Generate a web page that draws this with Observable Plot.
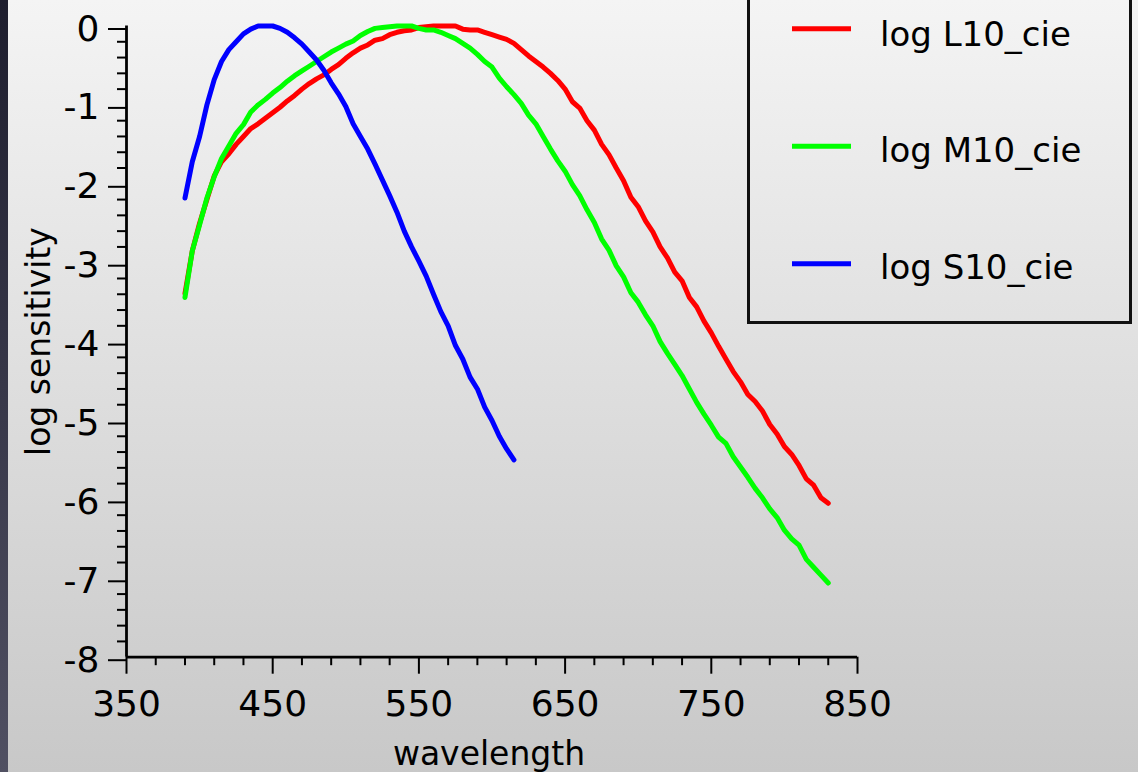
<!DOCTYPE html>
<html><head><meta charset="utf-8">
<script src="https://cdn.jsdelivr.net/npm/d3@7"></script>
<script src="https://cdn.jsdelivr.net/npm/@observablehq/plot@0.6"></script>
<style>
html,body{margin:0;padding:0;}
body{width:1138px;height:772px;overflow:hidden;background:linear-gradient(#f4f4f4,#c8c8c8);font-family:"DejaVu Sans",sans-serif;}
#wrap{position:relative;width:1138px;height:772px;}
#chart{position:absolute;left:0;top:0;}
#strip{position:absolute;left:0;top:0;width:8px;height:772px;background:linear-gradient(#1e1e2e,#505062);}
#legend{position:absolute;left:0;top:0;overflow:visible;}
</style></head>
<body><div id="wrap"><div id="chart"></div><div id="strip"></div><svg id="legend" width="1138" height="772"></svg></div>
<script>
// wavelength grid (nm), 5 nm steps
const wavelengthsLM = d3.range(390, 831, 5);
const wavelengthsS = d3.range(390, 616, 5);

const logL10 = [-3.39,-2.85,-2.50,-2.20,-1.90,-1.72,-1.62,-1.50,-1.40,-1.30,-1.24,-1.17,-1.10,
  -1.03,-0.95,-0.88,-0.80,-0.73,-0.67,-0.62,-0.55,-0.49,-0.41,
  -0.34,-0.28,-0.24,-0.18,-0.16,-0.11,-0.08,-0.06,-0.05,-0.02,
  -0.01,0,0,0,0,-0.04,-0.05,-0.05,-0.08,-0.11,
  -0.14,-0.17,-0.22,-0.30,-0.38,-0.45,-0.52,-0.60,-0.69,-0.80,
  -0.96,-1.04,-1.20,-1.32,-1.50,-1.63,-1.80,-1.96,-2.17,-2.29,
  -2.47,-2.61,-2.80,-2.94,-3.12,-3.23,-3.44,-3.56,-3.74,-3.89,
  -4.06,-4.22,-4.38,-4.51,-4.67,-4.76,-4.88,-5.05,-5.17,-5.33,
  -5.43,-5.57,-5.74,-5.82,-5.98,-6.05];

const logM10 = [-3.44,-2.85,-2.52,-2.18,-1.91,-1.68,-1.52,-1.36,-1.25,-1.09,-1.00,-0.93,-0.85,
  -0.78,-0.70,-0.63,-0.57,-0.51,-0.45,-0.39,-0.33,-0.28,-0.23,
  -0.19,-0.12,-0.07,-0.03,-0.02,-0.01,0,0,0,-0.03,
  -0.05,-0.05,-0.08,-0.12,-0.16,-0.22,-0.28,-0.36,-0.45,-0.52,
  -0.66,-0.77,-0.87,-0.98,-1.13,-1.24,-1.40,-1.56,-1.71,-1.84,
  -2.01,-2.15,-2.33,-2.49,-2.70,-2.84,-3.04,-3.18,-3.38,-3.50,
  -3.66,-3.80,-4.00,-4.15,-4.29,-4.43,-4.60,-4.77,-4.92,-5.06,
  -5.21,-5.29,-5.46,-5.59,-5.72,-5.86,-5.98,-6.12,-6.23,-6.39,
  -6.50,-6.58,-6.76,-6.86,-6.96,-7.06];

const logS10 = [-2.18,-1.72,-1.40,-1.00,-0.68,-0.45,-0.30,-0.20,-0.10,-0.04,0,0,0,
  -0.03,-0.08,-0.15,-0.23,-0.33,-0.43,-0.56,-0.72,-0.86,-1.02,
  -1.24,-1.40,-1.56,-1.75,-1.95,-2.15,-2.36,-2.60,-2.80,-2.98,
  -3.17,-3.40,-3.62,-3.80,-4.05,-4.22,-4.45,-4.60,-4.83,-5.00,
  -5.20,-5.36,-5.50];

const seriesNames = ["log L10_cie", "log M10_cie", "log S10_cie"];
const seriesColors = ["#ff0000", "#00ff00", "#0000ff"];
const seriesWavelengths = [wavelengthsLM, wavelengthsLM, wavelengthsS];
const seriesValues = [logL10, logM10, logS10];

const xDomain = [350, 850];
const yDomain = [-8, 0];
const xMajorTicks = [350, 450, 550, 650, 750, 850];
const xMinorTicks = d3.range(350, 851, 20).filter(t => !xMajorTicks.includes(t));
const yMajorTicks = [0, -1, -2, -3, -4, -5, -6, -7, -8];
const yMinorTicks = d3.range(-8, 0.001, 0.2).map(t => +t.toFixed(1)).filter(t => !yMajorTicks.includes(t));

const xLabel = "wavelength";
const yLabel = "log sensitivity";

const rows = [];
seriesNames.forEach((name, k) => seriesValues[k].forEach((v, i) => rows.push({name, w: seriesWavelengths[k][i], v})));

const FONT = "DejaVu Sans";

const chart = Plot.plot({
  width: 1138, height: 772,
  marginLeft: 126, marginRight: 281, marginTop: 25.5, marginBottom: 115.3,
  x: {domain: xDomain},
  y: {domain: yDomain},
  color: {domain: seriesNames, range: seriesColors},
  style: {background: "transparent", fontFamily: FONT, overflow: "visible", color: "#000"},
  marks: [
    Plot.axisX({ticks: xMinorTicks, tickSize: 8.5, tickFormat: () => "", strokeWidth: 2, label: null}),
    Plot.axisX({ticks: xMajorTicks, tickSize: 17, tickPadding: 16, tickFormat: d => String(d), fontSize: 36, strokeWidth: 2, label: null}),
    Plot.axisY({ticks: yMinorTicks, tickSize: 9, tickFormat: () => "", strokeWidth: 2, label: null}),
    Plot.axisY({ticks: yMajorTicks, tickSize: 18, tickPadding: 9, tickFormat: d => String(d), fontSize: 36, strokeWidth: 2, dy: 3, label: null}),
    Plot.ruleY([yDomain[0]], {x1: xDomain[0], x2: xDomain[1], strokeWidth: 2.8, stroke: "#000"}),
    Plot.ruleX([xDomain[0]], {y1: yDomain[0], y2: yDomain[1], strokeWidth: 2.8, stroke: "#000"}),
    Plot.line(rows, {x: "w", y: "v", z: "name", stroke: "name", strokeWidth: 5, strokeLinejoin: "round"}),
    Plot.text([xLabel], {text: d => d, frameAnchor: "bottom", textAnchor: "middle", dy: 108, dx: -3, fontSize: 33, fill: "#000"}),
    Plot.text([yLabel], {text: d => d, frameAnchor: "left", textAnchor: "middle", rotate: -90, lineAnchor: "top", dx: -100, fontSize: 33, fill: "#000"})
  ]
});
document.getElementById("chart").appendChild(chart);

// legend box
const leg = d3.select("#legend");
leg.append("rect").attr("x", 748.5).attr("y", -10).attr("width", 382).attr("height", 332.5)
  .attr("fill", "none").attr("stroke", "#111").attr("stroke-width", 3);
seriesNames.forEach((name, i) => {
  const cy = 28.7 + i * 117.5;
  leg.append("line").attr("x1", 792).attr("x2", 851).attr("y1", cy).attr("y2", cy)
    .attr("stroke", seriesColors[i]).attr("stroke-width", 5);
  leg.append("text").attr("x", 880).attr("y", 45.7 + i * 116.7)
    .attr("font-family", FONT).attr("font-size", 34).attr("fill", "#000").text(name);
});
</script>
</body></html>
